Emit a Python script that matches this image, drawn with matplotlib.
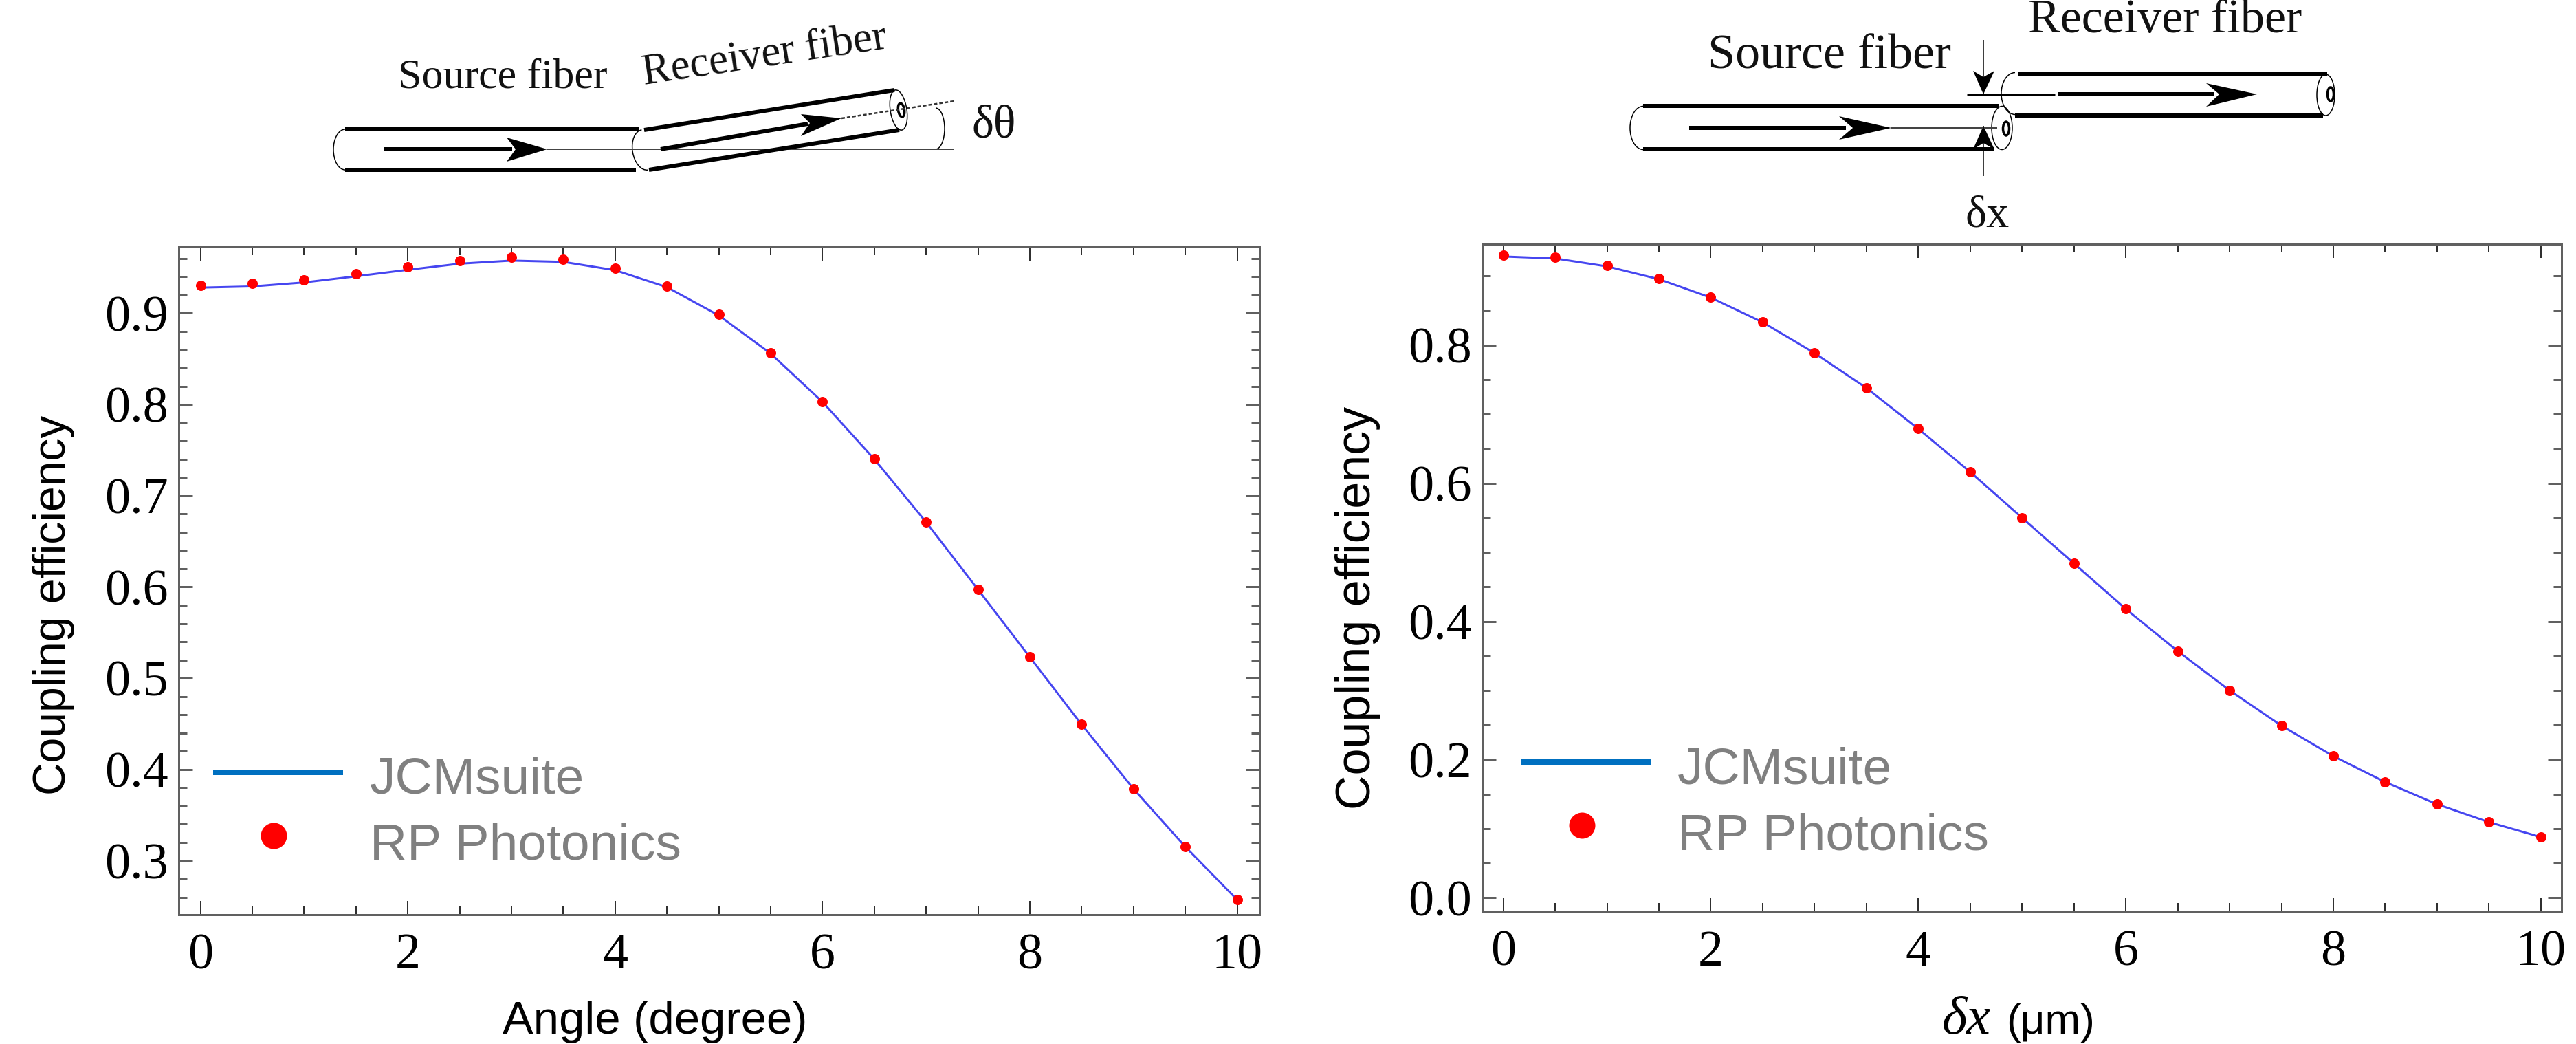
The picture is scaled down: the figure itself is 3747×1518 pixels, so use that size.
"""Coupling efficiency vs tilt angle and lateral offset, JCMsuite against RP Photonics."""

import matplotlib

matplotlib.use("Agg")
import matplotlib.pyplot as plt
from matplotlib.patches import Arc, Ellipse
from matplotlib.ticker import MultipleLocator

W, H = 3748, 1518
DPI = 100
PX = 72 / DPI  # points per output pixel

x_nodes = [0, 0.5, 1, 1.5, 2, 2.5, 3, 3.5, 4, 4.5, 5, 5.5, 6, 6.5, 7, 7.5, 8, 8.5, 9, 9.5, 10]

angle_line = [0.928, 0.9293, 0.9337, 0.9404, 0.9475, 0.9542, 0.9576, 0.9562, 0.9471, 0.9285, 0.8975,
              0.8558, 0.8028, 0.7400, 0.6710, 0.5972, 0.5231, 0.4492, 0.3788, 0.3153, 0.2573]
angle_dots = [0.9303, 0.9323, 0.9364, 0.9434, 0.9505, 0.9572, 0.9616, 0.9592, 0.9495, 0.9293, 0.8986,
              0.8564, 0.8033, 0.7403, 0.6712, 0.5974, 0.5233, 0.4494, 0.3790, 0.3155, 0.2575]

offset_line = [0.9284, 0.9255, 0.9140, 0.8955, 0.8688, 0.8330, 0.7885, 0.7380, 0.6788, 0.6164, 0.5500,
               0.4840, 0.4180, 0.3570, 0.3002, 0.2491, 0.2050, 0.1675, 0.1353, 0.1094, 0.0878]
offset_dots = [0.9307, 0.9275, 0.9156, 0.8965, 0.8694, 0.8333, 0.7889, 0.7383, 0.6791, 0.6166, 0.5502,
               0.4842, 0.4181, 0.3571, 0.3003, 0.2492, 0.2051, 0.1676, 0.1354, 0.1095, 0.0879]

legend_labels = ["JCMsuite", "RP Photonics"]
y_label = "Coupling efficiency"
left_xlabel = "Angle (degree)"
line_color = "#4646F0"
dot_color = "#FF0000"
frame_color = "#606060"


def make_panel(fig, left, right, top, bottom, xlim, ylim, y_major, y_minor, y_fmt):
    ax = fig.add_axes([left / W, 1 - bottom / H, (right - left) / W, (bottom - top) / H])
    ax.set_xlim(*xlim)
    ax.set_ylim(*ylim)
    ax.xaxis.set_major_locator(MultipleLocator(2))
    ax.xaxis.set_minor_locator(MultipleLocator(0.5))
    ax.yaxis.set_major_locator(MultipleLocator(y_major))
    ax.yaxis.set_minor_locator(MultipleLocator(y_minor))
    ax.yaxis.set_major_formatter(y_fmt)
    for spine in ax.spines.values():
        spine.set_color(frame_color)
        spine.set_linewidth(3 * PX)
    ax.tick_params(axis="x", which="major", direction="in", top=True, length=20 * PX, width=2 * PX,
                   color="#303030", pad=27 * PX)
    ax.tick_params(axis="x", which="minor", direction="in", top=True, length=12 * PX, width=2 * PX, color="#303030")
    ax.tick_params(axis="y", which="major", direction="in", right=True, length=20 * PX, width=3 * PX,
                   color=frame_color, pad=15 * PX)
    ax.tick_params(axis="y", which="minor", direction="in", right=True, length=12 * PX, width=3 * PX, color=frame_color)
    for label in ax.get_xticklabels() + ax.get_yticklabels():
        label.set_fontfamily("Liberation Serif")
        label.set_fontsize(74 * PX)
    return ax


def draw_series(ax, line, dots):
    ax.plot(x_nodes, line, color=line_color, linewidth=3 * PX, clip_on=False, zorder=3)
    ax.plot(x_nodes, dots, linestyle="none", marker="o", markersize=15 * PX, markeredgewidth=0,
            color=dot_color, clip_on=False, zorder=4)


def thick(ov, p0, p1, lw=5, color="black", ls="-"):
    ov.plot([p0[0], p1[0]], [p0[1], p1[1]], color=color, linewidth=lw * PX, linestyle=ls, solid_capstyle="butt")


def arrow_head(ov, tip, back0, back1, notch):
    ov.fill([tip[0], back0[0], notch[0], back1[0]], [tip[1], back0[1], notch[1], back1[1]],
            color="black", linewidth=0)


def cap(ov, center, width, height, angle=0, theta=(90, 270), lw=1.5):
    ov.add_patch(Arc(center, width, height, angle=angle, theta1=theta[0], theta2=theta[1],
                     color="black", linewidth=lw * PX))


def draw_angle_schematic(ov):
    serif = {"family": "Liberation Serif", "color": "#111111"}
    thick(ov, (502, 188), (930, 188), 6)
    thick(ov, (502, 247), (925, 247), 6)
    cap(ov, (502, 217.5), 34, 59)
    thick(ov, (558, 217), (745, 217), 6)
    arrow_head(ov, (796, 217), (737, 200), (737, 235), (750, 217))
    thick(ov, (796, 217), (1388, 217), 2, "#444444")
    # tilted receiver fiber
    thick(ov, (937, 189), (1301, 131), 6)
    thick(ov, (944, 247), (1308, 189), 6)
    cap(ov, (938, 218), 36, 59, angle=-9)
    ov.add_patch(Ellipse((1307, 160), 24, 59, angle=-9, fill=False, edgecolor="black", linewidth=1.5 * PX))
    ov.add_patch(Ellipse((1311, 160), 9, 20, angle=-9, fill=False, edgecolor="black", linewidth=3.5 * PX))
    thick(ov, (961, 217), (1175, 180), 6)
    arrow_head(ov, (1224, 172), (1165, 166), (1165, 198), (1178, 179))
    thick(ov, (1224, 172), (1388, 147), 2.5, "#333333", (0, (2, 1.2)))
    cap(ov, (1361, 187), 26, 60, theta=(-90, 90))
    ov.text(579, 128, "Source fiber", fontsize=62 * PX, ha="left", va="baseline", **serif)
    ov.text(937, 123, "Receiver fiber", fontsize=63 * PX, rotation=8.5, rotation_mode="anchor",
            ha="left", va="baseline", **serif)
    ov.text(1414, 199, "δθ", fontsize=68 * PX, ha="left", va="baseline", **serif)


def draw_offset_schematic(ov):
    serif = {"family": "Liberation Serif", "color": "#111111"}
    thick(ov, (2390, 154), (2908, 154), 6)
    thick(ov, (2390, 217), (2901, 217), 6)
    cap(ov, (2390, 186), 38, 63)
    thick(ov, (2457, 186), (2685, 186), 6)
    arrow_head(ov, (2751, 186), (2675, 169), (2675, 203), (2695, 186))
    thick(ov, (2751, 186), (2905, 186), 2, "#444444")
    ov.add_patch(Ellipse((2912, 186), 30, 63, fill=False, edgecolor="black", linewidth=1.5 * PX))
    ov.add_patch(Ellipse((2918, 187), 9, 20, fill=False, edgecolor="black", linewidth=3.5 * PX))
    thick(ov, (2935, 108), (3385, 108), 6)
    thick(ov, (2931, 168), (3379, 168), 6)
    cap(ov, (2931, 136), 40, 61)
    thick(ov, (2993, 137), (3220, 137), 6)
    arrow_head(ov, (3283, 137), (3209, 121), (3209, 155), (3228, 137))
    thick(ov, (2861, 137), (2989, 137), 3)
    ov.add_patch(Ellipse((3383, 138), 26, 60, fill=False, edgecolor="black", linewidth=1.5 * PX))
    ov.add_patch(Ellipse((3390, 137), 9, 20, fill=False, edgecolor="black", linewidth=3.5 * PX))
    # offset markers
    thick(ov, (2885, 58), (2885, 137), 1.5)
    arrow_head(ov, (2885, 137), (2870, 103), (2901, 103), (2885, 112))
    thick(ov, (2885, 183), (2885, 256), 1.5)
    arrow_head(ov, (2885, 183), (2870, 217), (2901, 217), (2885, 208))
    ov.text(2484, 99, "Source fiber", fontsize=72 * PX, ha="left", va="baseline", **serif)
    ov.text(2950, 47, "Receiver fiber", fontsize=70 * PX, ha="left", va="baseline", **serif)
    ov.text(2859, 330, "δx", fontsize=66 * PX, ha="left", va="baseline", **serif)


def draw_legend(ov, line_span, line_y, dot_xy, text_x, baselines):
    ov.plot(line_span, [line_y, line_y], color="#0070C0", linewidth=8 * PX, solid_capstyle="butt")
    ov.plot(*dot_xy, marker="o", markersize=38 * PX, markeredgewidth=0, color=dot_color)
    for label, baseline in zip(legend_labels, baselines):
        ov.text(text_x, baseline, label, fontsize=75 * PX, family="Liberation Sans", color="#808080",
                ha="left", va="baseline")


def main():
    fig = plt.figure(figsize=(W / DPI, H / DPI), dpi=DPI, facecolor="white")

    ax1 = make_panel(fig, 260, 1832, 359, 1330, (-0.209, 10.215), (0.2409, 0.9726), 0.1, 0.02, "{x:.1f}")
    draw_series(ax1, angle_line, angle_dots)
    ax2 = make_panel(fig, 2156, 3726, 355, 1325, (-0.203, 10.2), (-0.0196, 0.9462), 0.2, 0.05, "{x:.1f}")
    draw_series(ax2, offset_line, offset_dots)

    ov = fig.add_axes([0, 0, 1, 1], zorder=5)
    ov.set_xlim(0, W)
    ov.set_ylim(H, 0)
    ov.axis("off")
    ov.patch.set_alpha(0)

    sans = {"family": "Liberation Sans", "color": "black"}
    ov.text(78, 880, y_label, fontsize=66 * PX, rotation=90, ha="center", va="center", **sans)
    ov.text(1975, 884, y_label, fontsize=70 * PX, rotation=90, ha="center", va="center", **sans)
    ov.text(731, 1503, left_xlabel, fontsize=67 * PX, ha="left", va="baseline", **sans)
    ov.text(2825, 1503, "δx", fontsize=78 * PX, family="Liberation Serif", style="italic",
            ha="left", va="baseline", color="black")
    ov.text(2918, 1503, "(μm)", fontsize=62 * PX, ha="left", va="baseline", **sans)

    draw_legend(ov, [310, 499], 1123, (398, 1215), 538, (1154, 1250))
    draw_legend(ov, [2212, 2402], 1108, (2301, 1200), 2440, (1139, 1235))
    draw_angle_schematic(ov)
    draw_offset_schematic(ov)

    fig.savefig("out.png", dpi=DPI)


if __name__ == "__main__":
    main()
